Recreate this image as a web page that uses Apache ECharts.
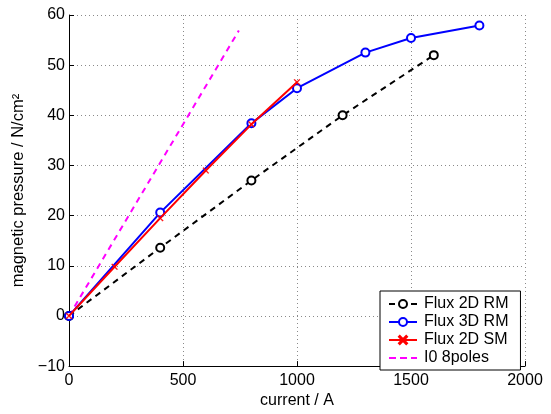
<!DOCTYPE html>
<html>
<head>
<meta charset="utf-8">
<script src="https://cdn.jsdelivr.net/npm/echarts@6/dist/echarts.min.js"></script>
<style>html,body{margin:0;padding:0;background:#fff}#c{width:551px;height:414px}</style>
</head>
<body>
<div id="c"></div>
<script>
// Data
const rm2dX = [0, 400, 800, 1200, 1600];
const rm2dY = [0, 13.6, 27.0, 40.0, 52.0];
const rm3dX = [0, 400, 800, 1000, 1300, 1500, 1800];
const rm3dY = [0, 20.6, 38.4, 45.4, 52.5, 55.4, 57.9];
const sm2dX = [0, 200, 400, 600, 800, 1000];
const sm2dY = [0, 9.8, 19.5, 29.0, 38.2, 46.6];
const i0X = [0, 745];
const i0Y = [0, 56.9];
const xTicks = [0, 500, 1000, 1500, 2000];
const yTicks = [-10, 0, 10, 20, 30, 40, 50, 60];
const seriesNames = ['Flux 2D RM', 'Flux 3D RM', 'Flux 2D SM', 'I0 8poles'];

const pairs = (xs, ys) => xs.map((x, i) => [x, ys[i]]);
const FONT = 'Liberation Sans, Arial, Helvetica, sans-serif';
const FS = 16;
const crossPath = 'path://M0,1L1,0L5,4L9,0L10,1L6,5L10,9L9,10L5,6L1,10L0,9L4,5Z';
const dashIcon = 'path://M0,0H7V2H0Z M11,0H18V2H11Z M22,0H28V2H22Z';

const chart = echarts.init(document.getElementById('c'), null, {renderer: 'canvas'});
chart.setOption({
  animation: false,
  backgroundColor: '#fff',
  textStyle: {fontFamily: FONT},
  grid: {left: 69, right: 26, top: 15, bottom: 40, containLabel: false},
  xAxis: {
    type: 'value', min: xTicks[0], max: xTicks[xTicks.length - 1], interval: 500,
    name: 'current / A', nameLocation: 'middle', nameGap: 21,
    nameTextStyle: {color: '#000', fontSize: FS, fontFamily: FONT},
    axisLine: {show: true, onZero: false, lineStyle: {color: '#000', width: 1}},
    axisTick: {show: true, inside: true, length: 5, lineStyle: {color: '#000'}},
    axisLabel: {color: '#000', fontSize: FS, fontFamily: FONT, margin: 6,
      formatter: v => String(v)},
    splitLine: {show: true, lineStyle: {color: '#8a8a8a', type: [1, 3], width: 1}}
  },
  yAxis: {
    type: 'value', min: yTicks[0], max: yTicks[yTicks.length - 1], interval: 10,
    name: 'magnetic pressure / N/cm²', nameLocation: 'middle', nameGap: 38,
    nameTextStyle: {color: '#000', fontSize: 16.5, fontFamily: FONT},
    axisLine: {show: true, onZero: false, lineStyle: {color: '#000', width: 1}},
    axisTick: {show: true, inside: true, length: 5, lineStyle: {color: '#000'}},
    axisLabel: {color: '#000', fontSize: FS, fontFamily: FONT, margin: 4,
      formatter: v => (v < 0 ? '\u2212' + Math.abs(v) : String(v))},
    splitLine: {show: true, lineStyle: {color: '#8a8a8a', type: [1, 3], width: 1}}
  },
  legend: {
    orient: 'vertical', left: 380, top: 291,
    padding: [5, 12, 4, 8],
    itemGap: 2, itemWidth: 28, itemHeight: 10,
    backgroundColor: '#fff', borderColor: '#000', borderWidth: 1, borderRadius: 0,
    textStyle: {color: '#000', fontSize: FS, fontFamily: FONT, padding: [0, 0, 0, 2]},
    data: [
      {name: seriesNames[0]},
      {name: seriesNames[1]},
      {name: seriesNames[2]},
      {name: seriesNames[3], icon: dashIcon, itemStyle: {color: '#ff00ff'}}
    ]
  },
  series: [
    {
      name: seriesNames[0], type: 'line', data: pairs(rm2dX, rm2dY), z: 2,
      symbol: 'emptyCircle', symbolSize: 8, showSymbol: true,
      lineStyle: {color: '#000', width: 2, type: [6, 5]},
      itemStyle: {color: '#000', borderColor: '#000', borderWidth: 1.5}
    },
    {
      name: seriesNames[1], type: 'line', data: pairs(rm3dX, rm3dY), z: 3,
      symbol: 'emptyCircle', symbolSize: 8,
      lineStyle: {color: '#0000ff', width: 2},
      itemStyle: {color: '#0000ff', borderColor: '#0000ff', borderWidth: 1.5}
    },
    {
      name: seriesNames[2], type: 'line', data: pairs(sm2dX, sm2dY), z: 4,
      symbol: crossPath, symbolSize: 6,
      lineStyle: {color: '#ff0000', width: 2},
      itemStyle: {color: '#ff0000', borderColor: '#ff0000', borderWidth: 0.5}
    },
    {
      name: seriesNames[3], type: 'line', data: pairs(i0X, i0Y), z: 1,
      symbol: 'none', showSymbol: false,
      lineStyle: {color: '#ff00ff', width: 2, type: [6, 5]},
      itemStyle: {color: '#ff00ff'}
    }
  ]
});
</script>
</body>
</html>
